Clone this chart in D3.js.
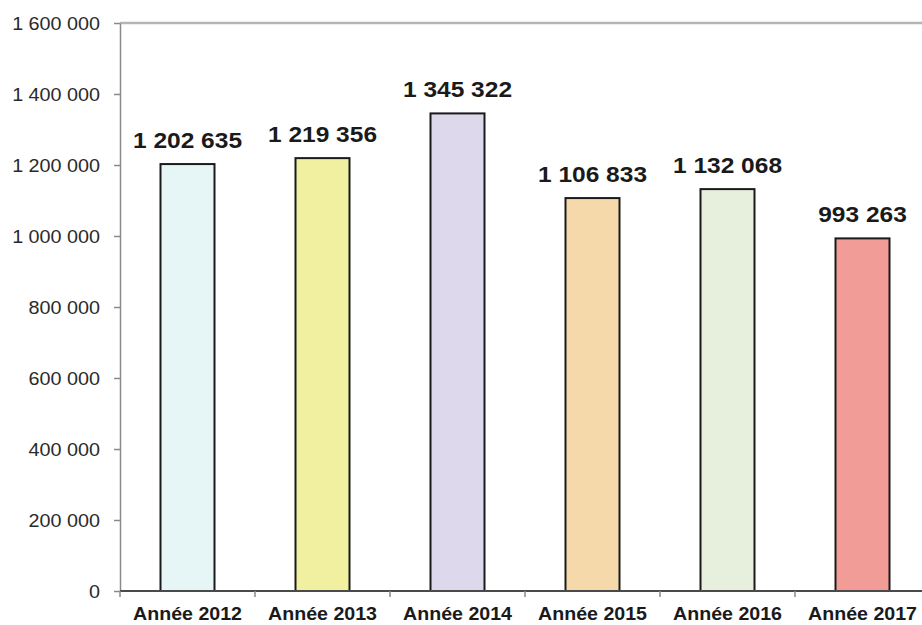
<!DOCTYPE html>
<html><head><meta charset="utf-8">
<script src="https://cdn.jsdelivr.net/npm/d3@7"></script>
<style>
html,body{margin:0;padding:0;background:#fff;}
svg{display:block;font-family:Arial,"Liberation Sans",sans-serif;}
</style></head>
<body>
<script>
const categories = ["Année 2012","Année 2013","Année 2014","Année 2015","Année 2016","Année 2017"];
const values = [1202635, 1219356, 1345322, 1106833, 1132068, 993263];
const valueLabels = ["1 202 635","1 219 356","1 345 322","1 106 833","1 132 068","993 263"];
const colors = ["#e6f5f5","#f0f0a0","#ddd8ec","#f5d9ab","#e6f0dc","#f29c98"];
const yTicks = [0,200000,400000,600000,800000,1000000,1200000,1400000,1600000];

const W = 922, H = 625;
const SX = 1.09, SXT = 1.04;
const svg = d3.select("body").append("svg").attr("width",W).attr("height",H);

const x = d3.scaleBand().domain(categories).range([120, 930]).paddingInner(0.6).paddingOuter(0.3);
const y = d3.scaleLinear().domain([0,1600000]).range([591,23]);
const fmt = d3.formatLocale({decimal:",",thousands:" ",grouping:[3],currency:["",""]}).format(",d");

// top border
svg.append("line").attr("x1",120).attr("x2",W).attr("y1",y(1600000)).attr("y2",y(1600000))
  .attr("stroke","#b4b4b4").attr("stroke-width",2.5);

// y axis
const ya = svg.append("g").attr("transform","translate(120,0)")
  .call(d3.axisLeft(y).tickValues(yTicks).tickFormat(fmt).tickSize(6).tickSizeOuter(0));
ya.select(".domain").attr("stroke","#8a8a8a").attr("stroke-width",1.5);
ya.selectAll(".tick line").attr("stroke","#8a8a8a").attr("stroke-width",1.5);
ya.selectAll(".tick text").attr("x",-20/SXT).attr("transform",`scale(${SXT},1)`)
  .attr("font-size",19).attr("fill","#2a2a2a").attr("font-family","Arial,'Liberation Sans',sans-serif");

// bars
svg.append("g").selectAll("rect").data(categories).join("rect")
  .attr("x",d=>x(d)).attr("width",x.bandwidth())
  .attr("y",(d,i)=>y(values[i])).attr("height",(d,i)=>y(0)-y(values[i]))
  .attr("fill",(d,i)=>colors[i]).attr("stroke","#1a1a1a").attr("stroke-width",2);

// x axis line
svg.append("line").attr("x1",120).attr("x2",W).attr("y1",y(0)).attr("y2",y(0))
  .attr("stroke","#4a4a4a").attr("stroke-width",1.8);
// x ticks at category boundaries
const step = x.step();
svg.append("g").selectAll("line").data(categories).join("line")
  .attr("x1",d=>x(d)-step*0.3).attr("x2",d=>x(d)-step*0.3)
  .attr("y1",y(0)).attr("y2",y(0)+6)
  .attr("stroke","#8a8a8a").attr("stroke-width",1.5);

// category labels
svg.append("g").selectAll("text").data(categories).join("text")
  .attr("transform",d=>`translate(${x(d)+x.bandwidth()/2},620) scale(${SX},1)`)
  .attr("text-anchor","middle").attr("font-size",18).attr("font-weight","bold")
  .attr("fill","#1a1a1a").text(d=>d);

// value labels
svg.append("g").selectAll("text").data(categories).join("text")
  .attr("transform",(d,i)=>`translate(${x(d)+x.bandwidth()/2},${y(values[i])-16}) scale(${SX},1)`)
  .attr("text-anchor","middle").attr("font-size",22.5).attr("font-weight","bold")
  .attr("fill","#1a1a1a").text((d,i)=>valueLabels[i]);
</script>
</body></html>
